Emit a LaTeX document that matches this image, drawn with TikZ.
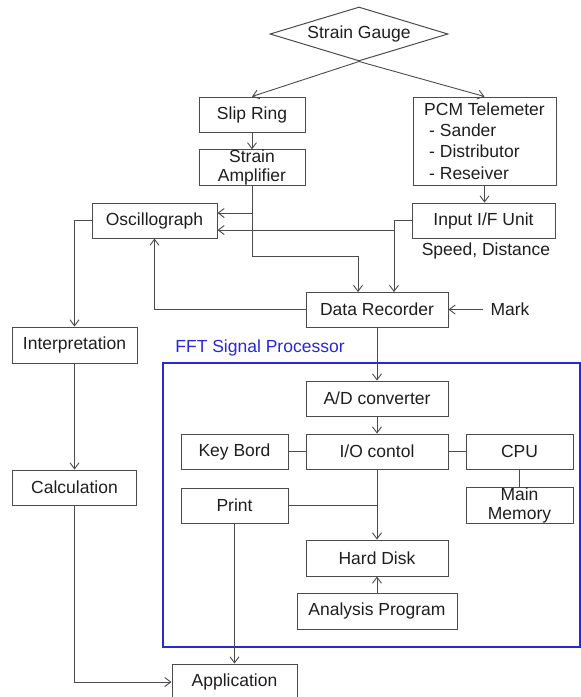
\documentclass[tikz,border=0pt]{standalone}
\usepackage{fontspec}
\setmainfont{Liberation Sans}
\usetikzlibrary{arrows.meta,shapes.geometric}
\definecolor{lc}{RGB}{75,75,75}
\definecolor{tc}{RGB}{30,30,30}
\definecolor{fftblue}{RGB}{40,40,215}
\begin{document}
\begin{tikzpicture}[x=1pt,y=-1pt,
  font=\fontsize{17.5}{19}\selectfont,
  box/.style={draw=lc,line width=1pt,inner sep=0pt,minimum height=35pt,text=tc},
  arr/.style={draw=lc,line width=0.9pt,-{Straight Barb[length=6pt,width=9pt]}},
  ln/.style={draw=lc,line width=0.9pt},
  lbl/.style={inner sep=0pt,text=tc}]
\useasboundingbox (0,0) rectangle (581,697);

% container
\node[draw=fftblue,line width=1.4pt,minimum width=417pt,minimum height=284pt,inner sep=0pt] (fftbox) at (371.5,505) {};
\node[lbl,text=fftblue] (fft) at (260,348) {FFT Signal Processor};

% top
\node[diamond,draw=lc,line width=1pt,aspect=3.3,minimum width=178pt,minimum height=54pt,inner sep=0pt,text=tc] (sg) at (359,34) {Strain Gauge};
\node[box,minimum width=106pt] (slip) at (252,114.5) {Slip Ring};
\node[box,minimum width=106pt,align=center] (amp) at (252,167.5) {Strain\\Amplifier};
\node[box,minimum width=143pt,minimum height=88pt,align=left,font=\fontsize{17.5}{21.3}\selectfont] (pcm) at (484.5,141) {PCM Telemeter\\\hspace*{5pt}- Sander\\\hspace*{5pt}- Distributor\\\hspace*{5pt}- Reseiver};

\node[box,minimum width=125pt] (osc) at (154.5,220.5) {Oscillograph};
\node[box,minimum width=143pt] (inif) at (483.5,220.5) {Input I/F Unit};
\node[lbl] (spd) at (486,251) {Speed, Distance};
\node[box,minimum width=142pt] (dr) at (377,309.5) {Data Recorder};
\node[lbl] (mark) at (510,309.5) {Mark};

\node[box,minimum width=125pt,minimum height=36pt] (interp) at (74.5,345) {Interpretation};
\node[box,minimum width=124pt] (calc) at (74.5,487.5) {Calculation};

% inside FFT
\node[box,minimum width=142pt] (ad) at (377,398.5) {A/D converter};
\node[box,minimum width=142pt] (io) at (377,451.5) {I/O contol};
\node[box,minimum width=107pt] (kb) at (234.5,451.5) {Key Bord};
\node[box,minimum width=107pt] (cpu) at (519.5,451.5) {CPU};
\node[box,minimum width=107pt,minimum height=36pt,align=center] (mem) at (519.5,505) {Main\\Memory};
\node[box,minimum width=107pt] (print) at (234.5,505.5) {Print};
\node[box,minimum width=142pt,minimum height=36pt] (hd) at (377,558) {Hard Disk};
\node[box,minimum width=160pt,minimum height=36pt] (ap) at (377,611) {Analysis Program};
\node[box,minimum width=125pt,minimum height=36pt] (app) at (234.5,682) {Application};

% junction coordinates
\coordinate (j1) at (252,256);
\coordinate (j2) at (252,213);
\coordinate (j3) at (394,220.5);
\coordinate (j4) at (394,230);
\coordinate (drl) at (358,292);
\coordinate (drr) at (394,292);

% connectors
\draw[arr] (sg.south) -- (slip.north);
\draw[arr] (sg.south) -- (pcm.north);
\draw[arr] (slip.south) -- (amp.north);
\draw[arr] (pcm.south) -- (pcm.south |- inif.north);
\draw[arr] (amp.south) -- (j1) -| (drl);
\draw[arr] (j2) -- (osc.east |- j2);
\draw[arr] (inif.west) -- (j3) -- (drr);
\draw[arr] (j4) -- (osc.east |- j4);
\draw[arr] (dr.west) -| (osc.south);
\draw[arr] ([xshift=-7pt]mark.west) -- (dr.east);
\draw[arr] (osc.west) -| (interp.north);
\draw[arr] (interp.south) -- (calc.north);
\draw[arr] (calc.south) |- (app.west);

\draw[arr] (dr.south) -- (ad.north);
\draw[arr] (ad.south) -- (io.north);
\draw[ln] (kb.east) -- (io.west);
\draw[ln] (io.east) -- (cpu.west);
\draw[ln] (cpu.south) -- (mem.north);
\draw[arr] (io.south) -- (hd.north);
\draw[ln] (print.east) -- (print.east -| io.south);
\draw[arr] (print.south) -- (app.north);
\draw[arr] (ap.north) -- (hd.south);
\end{tikzpicture}
\end{document}
